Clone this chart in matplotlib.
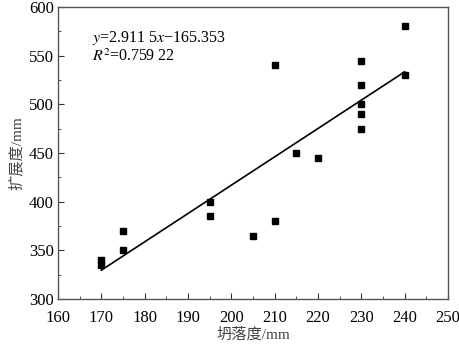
import numpy as np
import matplotlib.pyplot as plt
from matplotlib.ticker import MultipleLocator

plt.rcParams['font.family'] = ['Liberation Serif', 'Noto Sans CJK SC']
plt.rcParams['mathtext.fontset'] = 'stix'

# slump (mm) vs spread (mm)
slump = [170, 170, 175, 175, 195, 195, 205, 210, 210, 215, 220,
         230, 230, 230, 230, 230, 240, 240]
spread = [340, 335, 370, 350, 400, 385, 365, 540, 380, 450, 445,
          545, 520, 500, 490, 475, 580, 530]

# fitted line
k, b = 2.9115, -165.353
fit_x = np.array([170, 240])

fig = plt.figure(figsize=(4.6, 3.46), dpi=100)
ax = fig.add_axes([58 / 460, 1 - 299 / 346, 390 / 460, 292 / 346])

ax.plot(slump, spread, 's', color='black', markersize=5, linestyle='none')
ax.plot(fit_x, k * fit_x + b, color='black', linewidth=1.2)

ax.set_xlim(160, 250)
ax.set_ylim(300, 600)
ax.xaxis.set_major_locator(MultipleLocator(10))
ax.xaxis.set_minor_locator(MultipleLocator(5))
ax.yaxis.set_major_locator(MultipleLocator(50))
ax.yaxis.set_minor_locator(MultipleLocator(25))
ax.tick_params(which='both', direction='in', top=False, right=False,
               labelsize=12, color='#333333')
ax.tick_params(which='major', length=4)
ax.tick_params(which='minor', length=2.5)
ax.tick_params(axis='x', which='major', pad=8)
ax.tick_params(axis='y', which='major', pad=3)
for s in ax.spines.values():
    s.set_color('#555555')
    s.set_linewidth(1.0)

ax.set_xlabel('坍落度/mm', fontsize=11, color='#444444', labelpad=1)
ax.set_ylabel('扩展度/mm', fontsize=11, color='#444444', labelpad=4)

ax.text(0.088, 0.895, r'$y$=2.911 5$x$−165.353', transform=ax.transAxes,
        fontsize=11.5, va='center')
ax.text(0.088, 0.83, r'$R^2$=0.759 22', transform=ax.transAxes,
        fontsize=11.5, va='center')

fig.savefig('out.png', dpi=100)
